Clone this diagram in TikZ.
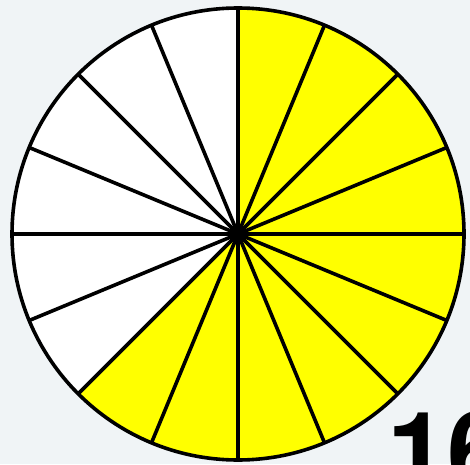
\documentclass[tikz,border=0pt]{standalone}
\usepackage{fontspec}
\setsansfont{TeX Gyre Heros}

\definecolor{partfill}{RGB}{255,255,0}
\definecolor{paper}{RGB}{240,244,246}

\begin{document}
\begin{tikzpicture}[
    x=1pt, y=1pt,
    every node/.style={inner sep=0pt, outer sep=0pt},
    spoke/.style={line width=3.6pt},
    rim/.style={line width=3.6pt},
    shaded/.style={fill=partfill},
    blank/.style={fill=white}
]

\clip (0,0) rectangle (470,464);
\fill[paper] (0,0) rectangle (470,464);

\coordinate (c) at (238,230);

% sixteen parts, ten of them shaded
\fill[blank] (c) circle[radius=226];
\fill[shaded] (c) -- ++(-135:226) arc[start angle=-135, end angle=90, radius=226] -- cycle;

\foreach \k in {0,...,15}
    \draw[spoke] (c) -- ++(\k*22.5:226);

\draw[rim] (c) circle[radius=226];
\node (hub) [circle, fill=black, minimum size=10pt] at (c) {};

\node (count) [anchor=base west] at (387.5,-25)
    {\sffamily\bfseries\fontsize{108}{108}\selectfont 16};

\end{tikzpicture}
\end{document}
